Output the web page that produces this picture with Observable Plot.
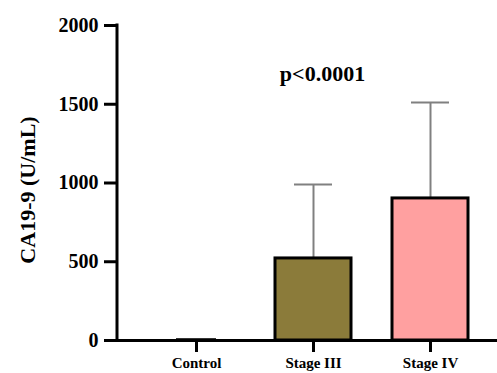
<!DOCTYPE html>
<html>
<head>
<meta charset="utf-8">
<script src="https://cdn.jsdelivr.net/npm/d3@7"></script>
<script src="https://cdn.jsdelivr.net/npm/@observablehq/plot@0.6"></script>
<style>
  html, body { margin: 0; padding: 0; background: #fff; }
  #chart svg { display: block; }
</style>
</head>
<body>
<div id="chart"></div>
<script>
const categories = ["Control", "Stage III", "Stage IV"];
const means = [5, 521, 902];
const sds = [3, 469, 609];
const fills = ["#ffffff", "#8b7b3a", "#ffa0a0"];
const yTicks = [0, 500, 1000, 1500, 2000];
const yLabel = "CA19-9 (U/mL)";
const pLabel = ["p<0.0001"];
const pPos = {x: "Stage III", y: 1690};

const data = categories.map((c, i) => ({cat: c, mean: means[i], upper: means[i] + sds[i], fill: fills[i]}));
const withErr = data.filter(d => d.cat !== "Control");

const font = "'Liberation Serif', 'Times New Roman', serif";

const chart = Plot.plot({
  width: 497,
  height: 373,
  marginLeft: 117,
  marginRight: 0,
  marginTop: 25,
  marginBottom: 33,
  style: {fontFamily: font, fontWeight: "bold", fontSize: "18px", color: "#000", background: "#fff"},
  x: {domain: categories, range: [117, 509], padding: 0.35},
  y: {domain: [0, 2000]},
  marks: [
    Plot.ruleX(withErr, {x: "cat", y1: "mean", y2: "upper", stroke: "#808080", strokeWidth: 2}),
    Plot.tickY(withErr, {x: "cat", y: "upper", stroke: "#808080", strokeWidth: 2, insetLeft: 19, insetRight: 19}),
    Plot.barY(data.filter(d => d.cat !== "Control"), {x: "cat", y: "mean", fill: "fill", stroke: "#000", strokeWidth: 3}),
    Plot.barY(data.filter(d => d.cat === "Control"), {x: "cat", y: "mean", fill: "fill", stroke: "#000", strokeWidth: 2, insetLeft: 19, insetRight: 19}),
    Plot.ruleY([0], {stroke: "#000", strokeWidth: 3}),
    Plot.axisY({ticks: yTicks, tickFormat: d => String(d), tickSize: 13, tickPadding: 6, strokeWidth: 3, fontSize: 20, fontWeight: "bold", label: null}),
    Plot.text([yLabel], {text: d => d, frameAnchor: "left", textAnchor: "middle", dx: -90, dy: 7, rotate: -90, fontSize: 22, fontWeight: "bold"}),
    Plot.axisX({tickSize: 12, tickPadding: 5, strokeWidth: 3, fontSize: 15, fontWeight: "bold", label: null}),
    Plot.text(pLabel, {x: () => pPos.x, y: () => pPos.y, text: d => d, dx: 9, fontSize: 22, fontWeight: "bold"})
  ]
});
const y = chart.scale("y");
d3.select(chart).append("line")
  .attr("x1", 117).attr("x2", 117)
  .attr("y1", y.apply(2000) - 1.5).attr("y2", y.apply(0) + 1.5)
  .attr("stroke", "#000").attr("stroke-width", 3);
document.getElementById("chart").appendChild(chart);
</script>
</body>
</html>
